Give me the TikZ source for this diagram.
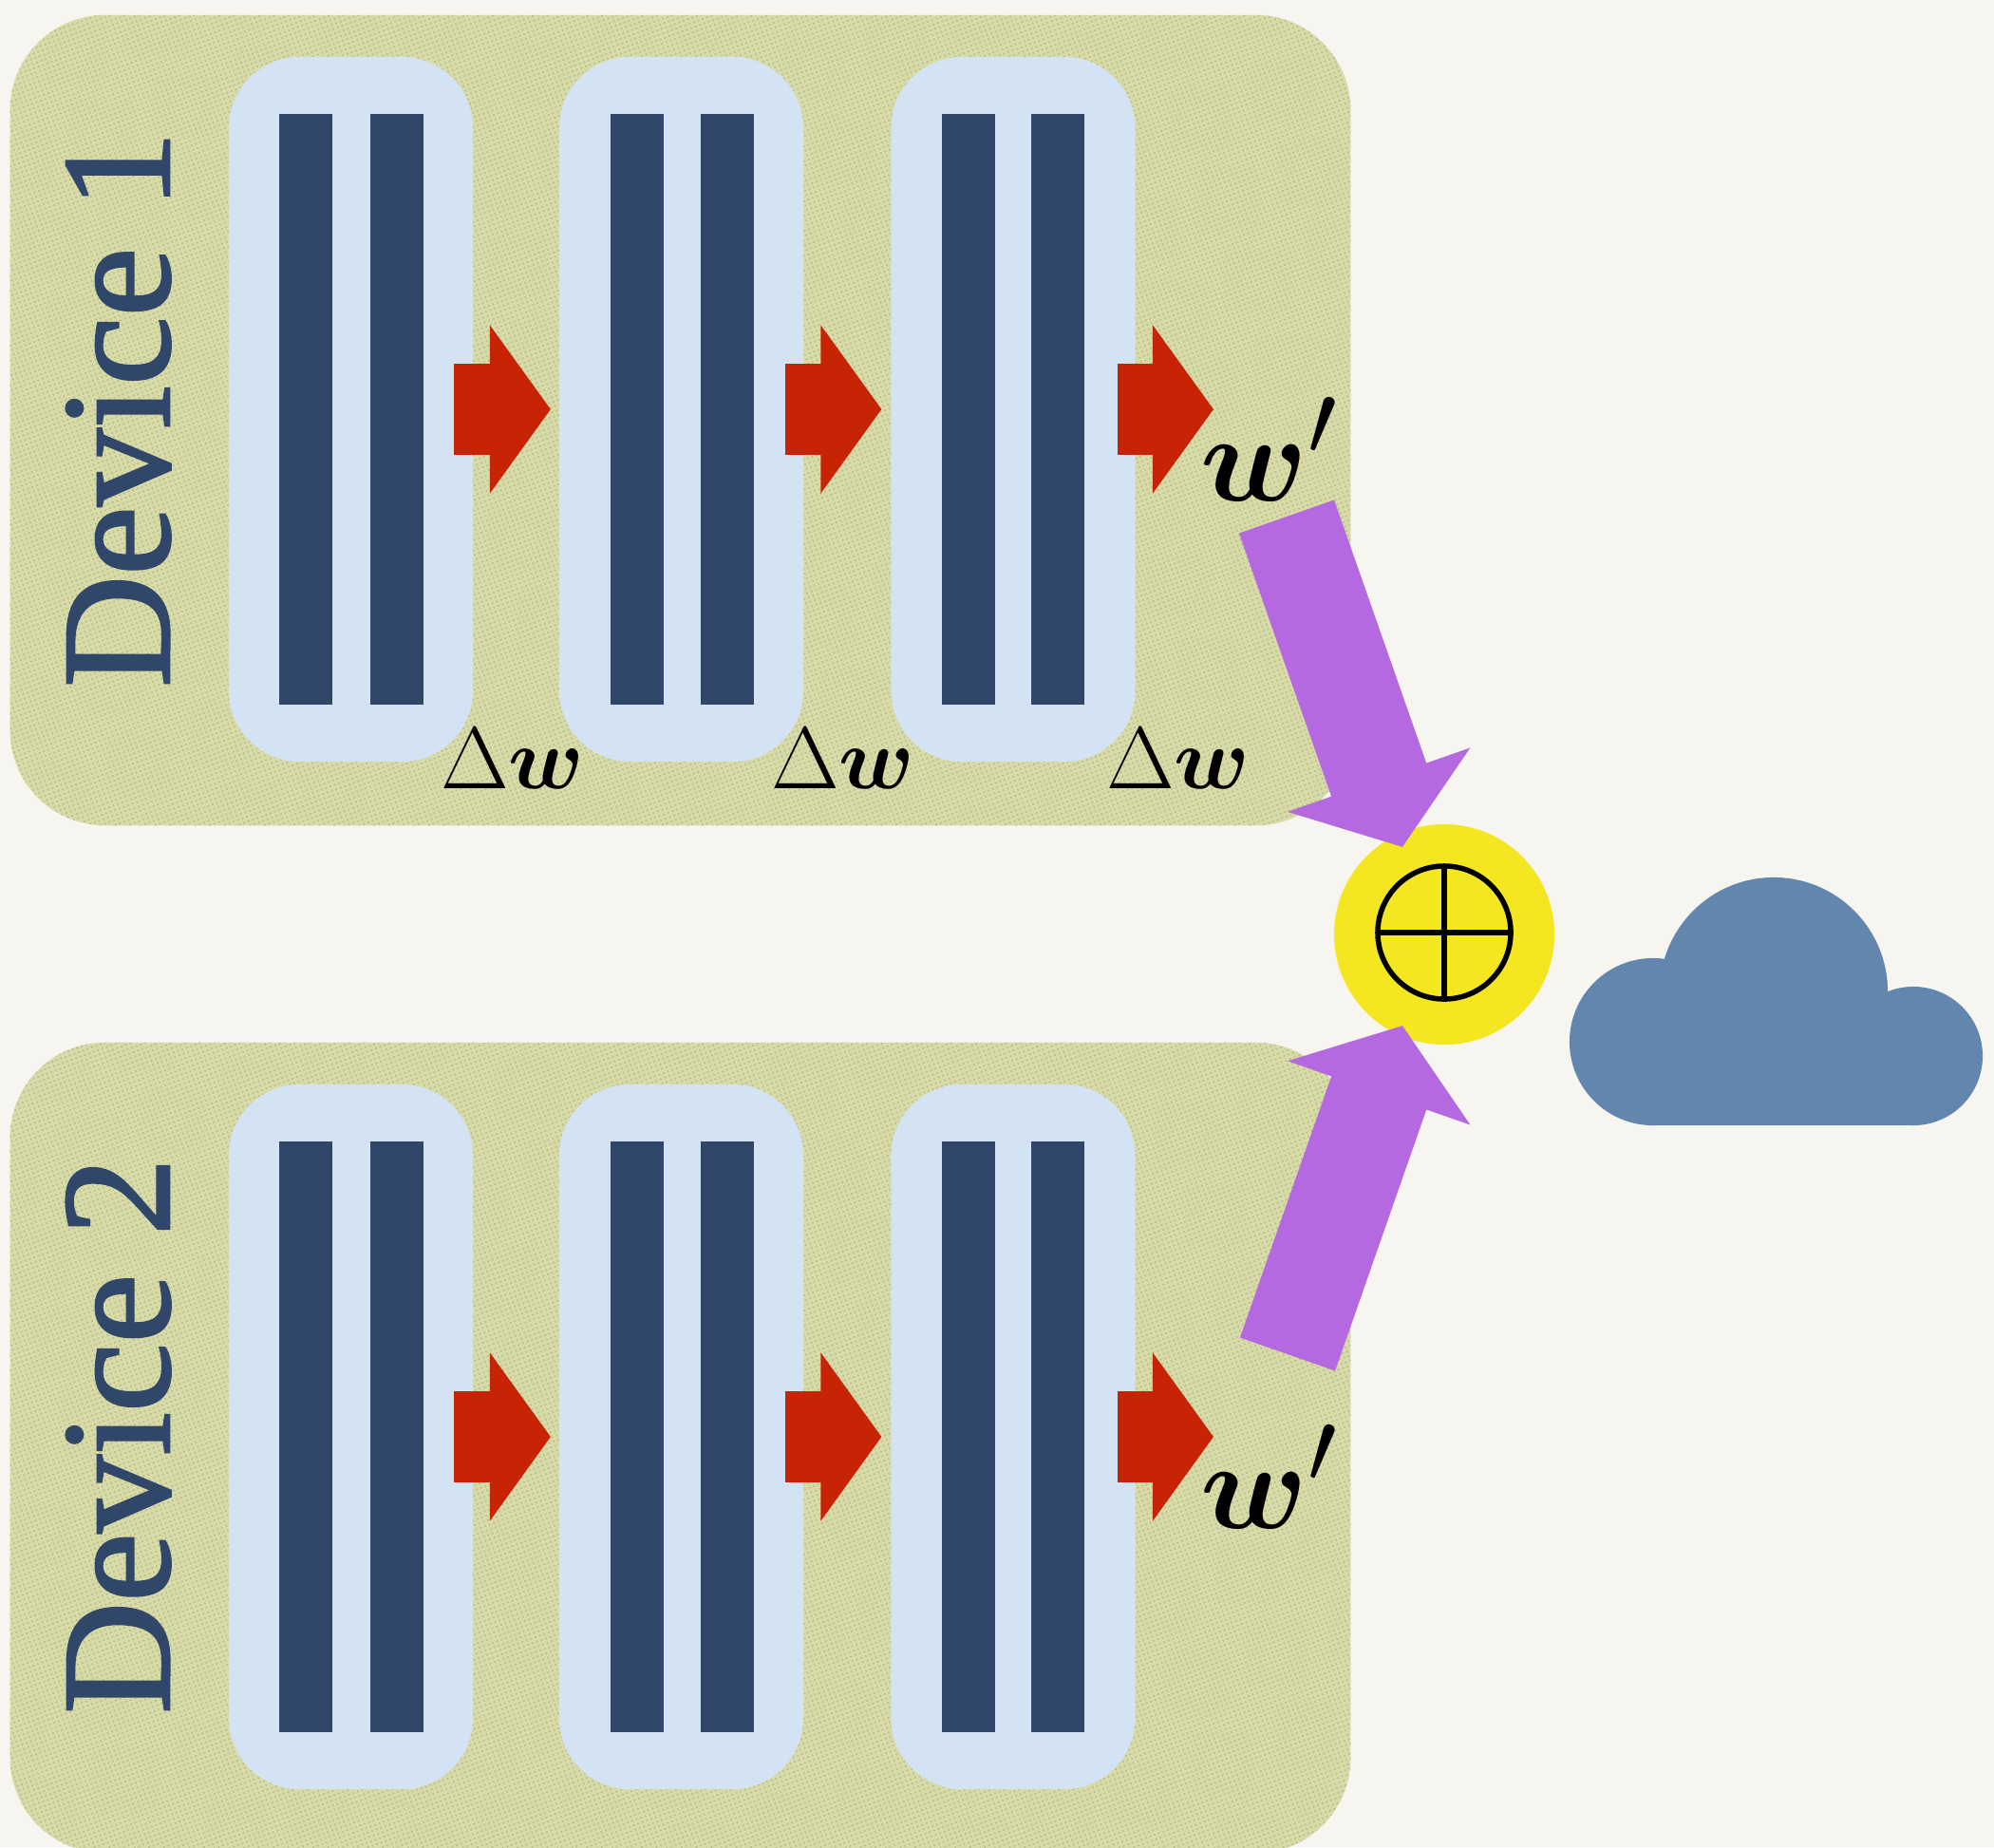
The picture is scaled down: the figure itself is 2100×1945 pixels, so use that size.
\documentclass[tikz,border=0pt]{standalone}
\usepackage{amsmath}
\usepackage[no-math]{fontspec}
\usetikzlibrary{arrows.meta,patterns.meta}
\newfontfamily\devfont[FakeBold=1.6]{Liberation Serif}
\definecolor{paper}{HTML}{F7F5F0}
\definecolor{devgreen}{HTML}{D8DBA8}
\definecolor{devdot}{HTML}{B9BF8A}
\definecolor{boxblue}{HTML}{D3E3F3}
\definecolor{barblue}{HTML}{31476A}
\definecolor{flowred}{HTML}{C72406}
\definecolor{sendpurple}{HTML}{B469E0}
\definecolor{sumyellow}{HTML}{F4E620}
\definecolor{cloudblue}{HTML}{6386AE}
\tikzset{
  device/.style={preaction={fill=devgreen},pattern={Dots[distance=1.4pt,radius=.36pt,angle=20]},pattern color=devdot,rounded corners=1cm,minimum width=14.11cm,minimum height=8.53cm,inner sep=0,outer sep=0},
  layerbox/.style={fill=boxblue,rounded corners=.75cm,minimum width=2.57cm,minimum height=7.42cm,inner sep=0,outer sep=0},
  bar/.style={fill=barblue,minimum width=.56cm,minimum height=6.22cm,inner sep=0,outer sep=0},
  devlabel/.style={text=barblue,rotate=90,anchor=base,font=\devfont\fontsize{46.5}{46.5}\selectfont},
  delta/.style={anchor=base,scale=1.06,font=\fontsize{24.88}{30}\selectfont},
  result/.style={anchor=base,scale=1.5,font=\fontsize{24.88}{30}\selectfont},
  flow/.style={draw=flowred,line width=.96cm,-{Triangle[length=.64cm,width=1.74cm,fill=flowred]}},
  send/.style={draw=sendpurple,line width=1.06cm,-{Triangle[length=.75cm,width=2cm,fill=sendpurple]}}
}
\begin{document}
\begin{tikzpicture}[x=.01cm,y=-.01cm]
    \path[use as bounding box,fill=paper] (0,0) rectangle (2100,1945);
    % device 1
    \node[device] (D1) at (716.5,442.5) {};
    \node[devlabel] (L1) at (178,431) {Device 1};
    \node[layerbox] (B11) at (369.5,431) {};
    \node[layerbox] (B12) at (717.5,431) {};
    \node[layerbox] (B13) at (1067,431) {};
    \node[bar] (R11a) at (322,431) {};
    \node[bar] (R11b) at (418,431) {};
    \node[bar] (R12a) at (671,431) {};
    \node[bar] (R12b) at (766,431) {};
    \node[bar] (R13a) at (1020,431) {};
    \node[bar] (R13b) at (1114,431) {};
    \node[delta] (G11) at (540,830) {$\Delta\boldsymbol{w}$};
    \node[delta] (G12) at (888,830) {$\Delta\boldsymbol{w}$};
    \node[delta] (G13) at (1241,830) {$\Delta\boldsymbol{w}$};
    \node[result] (W1) at (1337,527) {$\boldsymbol{w}'$};
    \coordinate (E1) at (1278,431);
    \draw[flow] ([xshift=-.2cm]B11.east) -- ([xshift=-.09cm]B12.west);
    \draw[flow] ([xshift=-.19cm]B12.east) -- ([xshift=-.1cm]B13.west);
    \draw[flow] ([xshift=-.19cm]B13.east) -- (E1);
    % device 2
    \node[device] (D2) at (716.5,1524.5) {};
    \node[devlabel] (L2) at (178,1512) {Device 2};
    \node[layerbox] (B21) at (369.5,1513) {};
    \node[layerbox] (B22) at (717.5,1513) {};
    \node[layerbox] (B23) at (1067,1513) {};
    \node[bar] (R21a) at (322,1513) {};
    \node[bar] (R21b) at (418,1513) {};
    \node[bar] (R22a) at (671,1513) {};
    \node[bar] (R22b) at (766,1513) {};
    \node[bar] (R23a) at (1020,1513) {};
    \node[bar] (R23b) at (1114,1513) {};
    \node[result] (W2) at (1337,1609) {$\boldsymbol{w}'$};
    \coordinate (E2) at (1278,1513);
    \draw[flow] ([xshift=-.2cm]B21.east) -- ([xshift=-.09cm]B22.west);
    \draw[flow] ([xshift=-.19cm]B22.east) -- ([xshift=-.1cm]B23.west);
    \draw[flow] ([xshift=-.19cm]B23.east) -- (E2);
    % server
    \node[circle,fill=sumyellow,minimum size=2.32cm,inner sep=0,outer sep=0] (S) at (1521,984) {};
    \node[circle,draw=black,line width=.055cm,minimum size=1.4cm,inner sep=0,outer sep=0] (P) at (1521,982) {};
    \draw[line width=.055cm] (P.north) -- (P.south);
    \draw[line width=.055cm] (P.west) -- (P.east);
    \coordinate (T1) at (1355,544);
    \coordinate (T2) at (1356,1426);
    \draw[send] (T1) -- ([xshift=-.44cm,yshift=.92cm]S.center);
    \draw[send] (T2) -- ([xshift=-.44cm,yshift=-.96cm]S.center);
    % cloud
    \fill[cloudblue] (1741,1097) circle (.88cm);
    \fill[cloudblue] (1868,1044) circle (1.2cm);
    \fill[cloudblue] (2015,1112) circle (.73cm);
    \fill[cloudblue] (1741,1097) rectangle (2015,1185);
\end{tikzpicture}
\end{document}
